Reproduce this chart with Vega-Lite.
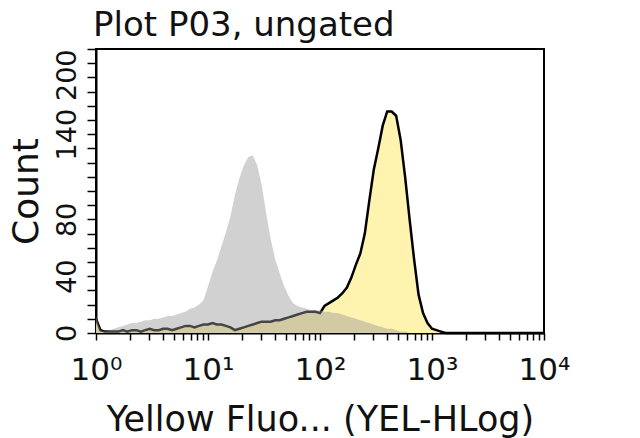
{
  "$schema": "https://vega.github.io/schema/vega-lite/v6.json",
  "width": 448,
  "height": 284,
  "autosize": "none",
  "padding": {"left": 96, "top": 49, "right": 96, "bottom": 105},
  "background": "white",
  "config": {
    "view": {"stroke": "black", "strokeWidth": 2},
    "font": "DejaVu Sans"
  },
  "title": {
    "text": "Plot P03, ungated",
    "anchor": "start",
    "frame": "group",
    "fontSize": 34,
    "fontWeight": "normal",
    "color": "#111111",
    "offset": 5,
    "dx": -3
  },
  "data": {
    "values": [
      {"fl": 1, "control": 12, "stained": 10},
      {"fl": 1.096, "control": 2, "stained": 2},
      {"fl": 1.202, "control": 1, "stained": 1},
      {"fl": 1.318, "control": 2, "stained": 1},
      {"fl": 1.445, "control": 3, "stained": 1},
      {"fl": 1.585, "control": 4, "stained": 1},
      {"fl": 1.738, "control": 5, "stained": 2},
      {"fl": 1.905, "control": 6, "stained": 1},
      {"fl": 2.089, "control": 7, "stained": 2},
      {"fl": 2.291, "control": 7, "stained": 2},
      {"fl": 2.512, "control": 8, "stained": 1},
      {"fl": 2.754, "control": 9, "stained": 2},
      {"fl": 3.02, "control": 9, "stained": 3},
      {"fl": 3.311, "control": 10, "stained": 2},
      {"fl": 3.631, "control": 10, "stained": 2},
      {"fl": 3.981, "control": 11, "stained": 3},
      {"fl": 4.365, "control": 12, "stained": 3},
      {"fl": 4.786, "control": 12, "stained": 2},
      {"fl": 5.248, "control": 13, "stained": 3},
      {"fl": 5.754, "control": 14, "stained": 4},
      {"fl": 6.31, "control": 15, "stained": 5},
      {"fl": 6.918, "control": 17, "stained": 5},
      {"fl": 7.586, "control": 18, "stained": 4},
      {"fl": 8.318, "control": 20, "stained": 5},
      {"fl": 9.12, "control": 23, "stained": 6},
      {"fl": 10, "control": 33, "stained": 6},
      {"fl": 10.96, "control": 43, "stained": 7},
      {"fl": 12.02, "control": 51, "stained": 6},
      {"fl": 13.18, "control": 61, "stained": 6},
      {"fl": 14.45, "control": 71, "stained": 5},
      {"fl": 15.85, "control": 82, "stained": 4},
      {"fl": 17.38, "control": 97, "stained": 2},
      {"fl": 19.05, "control": 109, "stained": 3},
      {"fl": 20.89, "control": 118, "stained": 4},
      {"fl": 22.91, "control": 124, "stained": 5},
      {"fl": 25.12, "control": 125, "stained": 6},
      {"fl": 27.54, "control": 118, "stained": 7},
      {"fl": 30.2, "control": 104, "stained": 8},
      {"fl": 33.11, "control": 84, "stained": 8},
      {"fl": 36.31, "control": 66, "stained": 8},
      {"fl": 39.81, "control": 52, "stained": 9},
      {"fl": 43.65, "control": 42, "stained": 9},
      {"fl": 47.86, "control": 33, "stained": 10},
      {"fl": 52.48, "control": 26, "stained": 11},
      {"fl": 57.54, "control": 21, "stained": 12},
      {"fl": 63.1, "control": 19, "stained": 13},
      {"fl": 69.18, "control": 18, "stained": 14},
      {"fl": 75.86, "control": 17, "stained": 15},
      {"fl": 83.18, "control": 16, "stained": 15},
      {"fl": 91.2, "control": 16, "stained": 15},
      {"fl": 100, "control": 16, "stained": 14},
      {"fl": 109.6, "control": 15, "stained": 19},
      {"fl": 120.2, "control": 15, "stained": 21},
      {"fl": 131.8, "control": 14, "stained": 23},
      {"fl": 144.5, "control": 14, "stained": 25},
      {"fl": 158.5, "control": 13, "stained": 28},
      {"fl": 173.8, "control": 12, "stained": 32},
      {"fl": 190.5, "control": 11, "stained": 39},
      {"fl": 208.9, "control": 10, "stained": 48},
      {"fl": 229.1, "control": 9, "stained": 56},
      {"fl": 251.2, "control": 8, "stained": 70},
      {"fl": 275.4, "control": 7, "stained": 93},
      {"fl": 302, "control": 6, "stained": 115},
      {"fl": 331.1, "control": 5, "stained": 130},
      {"fl": 363.1, "control": 4, "stained": 146},
      {"fl": 398.1, "control": 3, "stained": 156},
      {"fl": 436.5, "control": 3, "stained": 156},
      {"fl": 478.6, "control": 2, "stained": 153},
      {"fl": 524.8, "control": 1, "stained": 136},
      {"fl": 575.4, "control": 1, "stained": 110},
      {"fl": 631, "control": 0, "stained": 80},
      {"fl": 691.8, "control": 0, "stained": 52},
      {"fl": 758.6, "control": 0, "stained": 27},
      {"fl": 831.8, "control": 0, "stained": 14},
      {"fl": 912, "control": 0, "stained": 7},
      {"fl": 1000, "control": 0, "stained": 3},
      {"fl": 1096, "control": 0, "stained": 2},
      {"fl": 1202, "control": 0, "stained": 1},
      {"fl": 1318, "control": 0, "stained": 0},
      {"fl": 10000, "control": 0, "stained": 0}
    ]
  },
  "transform": [
    {"fold": ["stained", "control"], "as": ["series", "count"]}
  ],
  "encoding": {
    "x": {
      "field": "fl",
      "type": "quantitative",
      "scale": {"type": "log", "domain": [1, 10000], "nice": false},
      "title": "Yellow Fluo... (YEL-HLog)",
      "axis": {
        "values": [1, 2, 3, 4, 5, 6, 7, 8, 9, 10, 20, 30, 40, 50, 60, 70, 80, 90, 100, 200, 300, 400, 500, 600, 700, 800, 900, 1000, 2000, 3000, 4000, 5000, 6000, 7000, 8000, 9000, 10000],
        "labelExpr": "datum.value == 1 ? '10⁰' : datum.value == 10 ? '10¹' : datum.value == 100 ? '10²' : datum.value == 1000 ? '10³' : datum.value == 10000 ? '10⁴' : ''",
        "labelFontSize": 31,
        "labelColor": "#111111",
        "labelOverlap": false,
        "labelFlush": false,
        "labelPadding": 15,
        "tickSize": 7,
        "tickColor": "black",
        "tickWidth": 1.5,
        "domainColor": "black",
        "domainWidth": 2,
        "grid": false,
        "titleFontSize": 35,
        "titleFontWeight": "normal",
        "titleColor": "#111111",
        "titlePadding": 17
      }
    },
    "y": {
      "field": "count",
      "type": "quantitative",
      "scale": {"domain": [0, 200], "nice": false},
      "title": "Count",
      "axis": {
        "values": [0, 10, 20, 30, 40, 50, 60, 70, 80, 90, 100, 110, 120, 130, 140, 150, 160, 170, 180, 190, 200],
        "labelExpr": "indexof([0, 40, 80, 140, 200], datum.value) >= 0 ? datum.label : ''",
        "labelAngle": 270,
        "labelAlign": {"condition": {"test": "datum.value == 200", "value": "right"}, "value": "center"},
        "labelFontSize": 27,
        "labelColor": "#111111",
        "labelOverlap": false,
        "labelFlush": false,
        "labelPadding": 6,
        "tickSize": 9,
        "tickColor": "black",
        "tickWidth": 1.5,
        "domainColor": "black",
        "domainWidth": 2,
        "grid": false,
        "titleFontSize": 36,
        "titleFontWeight": "normal",
        "titleColor": "#111111",
        "titlePadding": 8
      }
    }
  },
  "layer": [
    {
      "transform": [{"filter": "datum.series == 'stained'"}],
      "mark": {"type": "area", "color": "#fff3b0"}
    },
    {
      "transform": [{"filter": "datum.series == 'stained'"}],
      "mark": {"type": "line", "color": "black", "strokeWidth": 2.5}
    },
    {
      "transform": [{"filter": "datum.series == 'control'"}],
      "mark": {"type": "area", "color": "#999999", "opacity": 0.45}
    }
  ]
}
